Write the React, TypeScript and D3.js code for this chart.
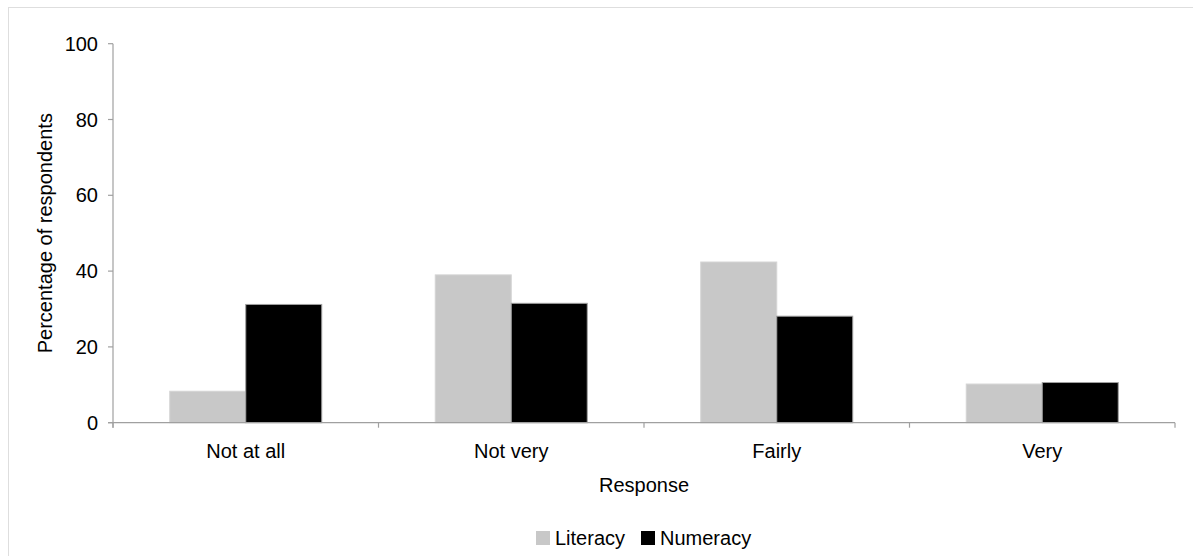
import React from "react";
import * as d3 from "d3";

const categories = ["Not at all", "Not very", "Fairly", "Very"];
const seriesNames = ["Literacy", "Numeracy"];
const literacy = [8.3, 39.0, 42.4, 10.2];
const numeracy = [31.2, 31.5, 28.1, 10.6];
const yTicks = [0, 20, 40, 60, 80, 100];

const W = 1193;
const H = 556;
const left = 113;
const right = 1175;
const top = 43.7;
const bottom = 422.7;
const FONT = "'Liberation Sans', Arial, Helvetica, sans-serif";
const colors = ["#c8c8c8", "#000000"];
const strokes = ["#d4d4d4", "#a0a0a0"];

export default function App() {
  const x = d3
    .scaleBand<string>()
    .domain(categories)
    .range([left, right])
    .paddingInner(0.4275)
    .paddingOuter(0.21375);
  const step = x.step();
  const xs = d3.scaleBand<string>().domain(seriesNames).range([0, x.bandwidth()]);
  const y = d3.scaleLinear().domain([0, 100]).range([bottom, top]);
  const values = [literacy, numeracy];
  const boundaries = d3.range(categories.length + 1).map((i) => left + i * step);

  return (
    <div style={{ position: "absolute", left: 0, top: 0 }}>
      <svg width={W} height={H} style={{ display: "block" }} fontFamily={FONT}>
        <rect x={0} y={0} width={W} height={H} fill="#fff" />
        <rect x={8.5} y={7.5} width={W + 10} height={H + 10} fill="none" stroke="#dedede" strokeWidth={1} />
        {/* bars */}
        {categories.map((c, i) =>
          seriesNames.map((s, k) => {
            const v = values[k][i];
            return (
              <rect
                key={c + s}
                x={(x(c) as number) + (xs(s) as number)}
                y={y(v)}
                width={xs.bandwidth()}
                height={bottom - y(v)}
                fill={colors[k]}
                stroke={strokes[k]}
                strokeWidth={1}
              />
            );
          })
        )}
        {/* y axis */}
        <line x1={left} x2={left} y1={top} y2={bottom + 5} stroke="#a0a0a0" strokeWidth={1.2} />
        {yTicks.map((t) => (
          <g key={t}>
            <line x1={left - 5} x2={left} y1={y(t)} y2={y(t)} stroke="#a0a0a0" strokeWidth={1.2} />
            <text x={98} y={y(t)} dy="0.35em" textAnchor="end" fontSize={20} fill="#000">
              {t}
            </text>
          </g>
        ))}
        {/* x axis */}
        <line x1={left - 5} x2={right} y1={bottom} y2={bottom} stroke="#a0a0a0" strokeWidth={1.2} />
        {boundaries.map((b, i) => (
          <line key={i} x1={b} x2={b} y1={bottom} y2={bottom + 5} stroke="#a0a0a0" strokeWidth={1.2} />
        ))}
        {categories.map((c) => (
          <text key={c} x={(x(c) as number) + x.bandwidth() / 2} y={457.5} textAnchor="middle" fontSize={20} fill="#000">
            {c}
          </text>
        ))}
        <text x={644} y={492} textAnchor="middle" fontSize={20} fill="#000">
          Response
        </text>
        <text
          transform={`translate(52, ${(top + bottom) / 2}) rotate(-90)`}
          textAnchor="middle"
          fontSize={20}
          fill="#000"
        >
          Percentage of respondents
        </text>
        {/* legend */}
        {seriesNames.map((s, k) => {
          const lx = k === 0 ? 536 : 641;
          return (
            <g key={s}>
              <rect x={lx} y={531} width={14} height={14} fill={colors[k]} />
              <text x={lx + 19} y={545} fontSize={20} fill="#000">
                {s}
              </text>
            </g>
          );
        })}
      </svg>
    </div>
  );
}
